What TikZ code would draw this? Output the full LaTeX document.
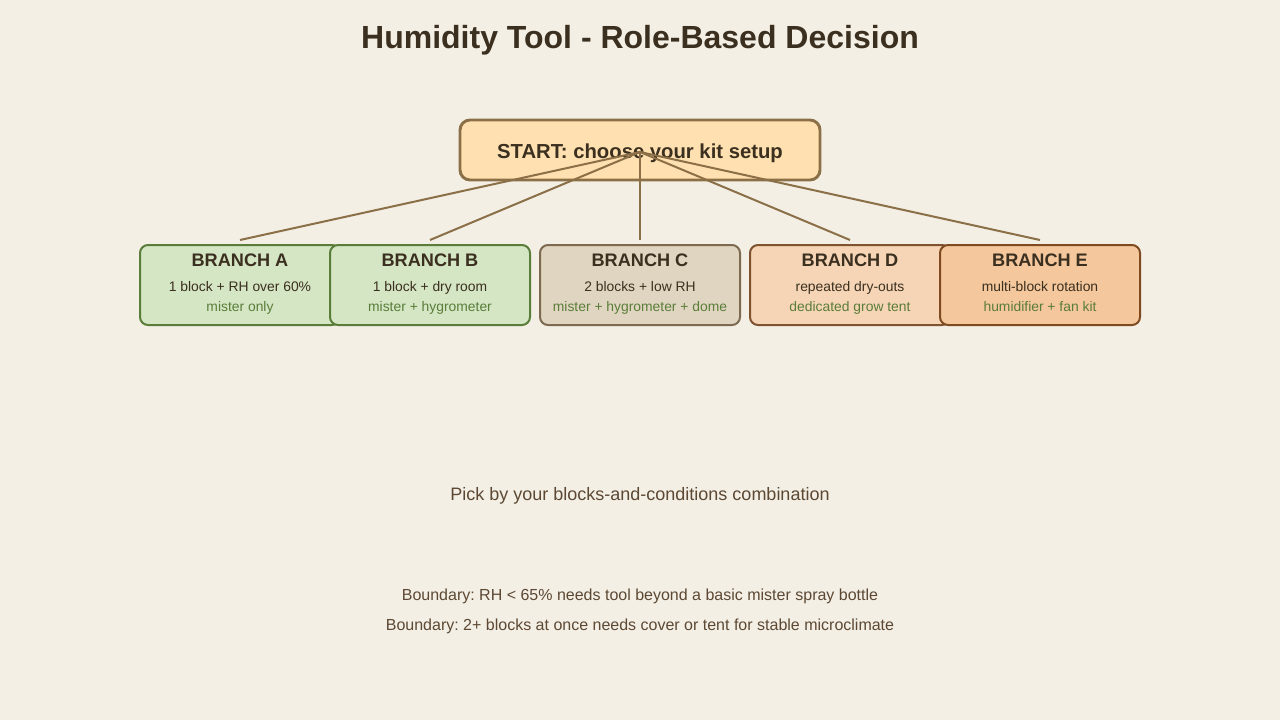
\documentclass[tikz,border=0pt]{standalone}
\usepackage{fontspec}
\setmainfont{Liberation Sans}
\frenchspacing
\definecolor{bg}{HTML}{F3EFE5}
\definecolor{ink}{HTML}{3B2F1F}
\definecolor{soft}{HTML}{5C4833}
\definecolor{leaf}{HTML}{5A7D3A}
\definecolor{linec}{HTML}{8B6F47}
\definecolor{startfill}{HTML}{FFE0B0}
\definecolor{startdraw}{HTML}{8B6F47}
\definecolor{afill}{HTML}{D4E6C4}
\definecolor{adraw}{HTML}{5A7D3A}
\definecolor{cfill}{HTML}{E0D5C0}
\definecolor{cdraw}{HTML}{7D6A50}
\definecolor{dfill}{HTML}{F5D5B5}
\definecolor{ddraw}{HTML}{7F5230}
\definecolor{efill}{HTML}{F4C79C}
\definecolor{edraw}{HTML}{7F4A20}
\tikzset{
  branchbox/.style={rectangle, rounded corners=6pt, line width=1.5pt, minimum width=150pt, minimum height=60pt, inner sep=0pt},
  bt/.style={font=\fontsize{13.6pt}{15pt}\selectfont\bfseries, text=ink, inner sep=0pt, anchor=base},
  bs/.style={font=\fontsize{10.4pt}{12pt}\selectfont, text=ink, inner sep=0pt, anchor=base},
  bg2/.style={font=\fontsize{10.4pt}{12pt}\selectfont, text=leaf, inner sep=0pt, anchor=base},
  conn/.style={draw=linec, line width=1.5pt},
  foot/.style={font=\fontsize{12pt}{14pt}\selectfont, text=soft, inner sep=0pt, anchor=base},
}
\begin{document}
\begin{tikzpicture}[x=0.75pt,y=-0.75pt]
\fill[bg] (0,0) rectangle (1280,720);
\useasboundingbox (0,0) rectangle (1280,720);
\node[font=\fontsize{24pt}{27pt}\selectfont\bfseries, text=ink, inner sep=0pt, anchor=base] (title) at (640,48.5) {Humidity Tool - Role-Based Decision};
\node[rectangle, rounded corners=7.5pt, line width=2.2pt, draw=startdraw, fill=startfill, minimum width=270pt, minimum height=45pt, inner sep=0pt] (start) at (640,150) {};
\node[font=\fontsize{15.2pt}{17pt}\selectfont\bfseries, text=ink, inner sep=0pt, anchor=base] (starttxt) at (640,158.5) {START: choose your kit setup};
% boxes
\node[branchbox, draw=adraw, fill=afill] (A) at (240,285) {};
\node[branchbox, draw=adraw, fill=afill] (B) at (430,285) {};
\node[branchbox, draw=cdraw, fill=cfill] (C) at (640,285) {};
\node[branchbox, draw=ddraw, fill=dfill] (D) at (850,285) {};
\node[branchbox, draw=edraw, fill=efill] (E) at (1040,285) {};
% texts
\foreach \n/\x/\t/\s/\g in {A/240/BRANCH A/1 block + RH over 60\%/mister only,
  B/430/BRANCH B/1 block + dry room/mister + hygrometer,
  C/640/BRANCH C/2 blocks + low RH/mister + hygrometer + dome,
  D/850/BRANCH D/repeated dry-outs/dedicated grow tent,
  E/1040/BRANCH E/multi-block rotation/humidifier + fan kit}{
  \node[bt] (\n t) at (\x,266) {\t};
  \node[bs] (\n s) at (\x,291.7) {\s};
  \node[bg2] (\n g) at (\x,311.5) {\g};
}
% connectors
\coordinate (hub) at (640,152);
\coordinate (Aend) at (240,240);
\coordinate (Bend) at (430,240);
\coordinate (Cend) at (640,240);
\coordinate (Dend) at (850,240);
\coordinate (Eend) at (1040,240);
\foreach \e in {Aend,Bend,Cend,Dend,Eend}{\draw[conn] (hub) -- (\e);}
% footer
\node[font=\fontsize{13.5pt}{15pt}\selectfont, text=soft, inner sep=0pt, anchor=base] (pick) at (640,500) {Pick by your blocks-and-conditions combination};
\node[foot] (b1) at (640,600) {Boundary: RH < 65\% needs tool beyond a basic mister spray bottle};
\node[foot] (b2) at (640,630) {Boundary: 2+ blocks at once needs cover or tent for stable microclimate};
\end{tikzpicture}
\end{document}
